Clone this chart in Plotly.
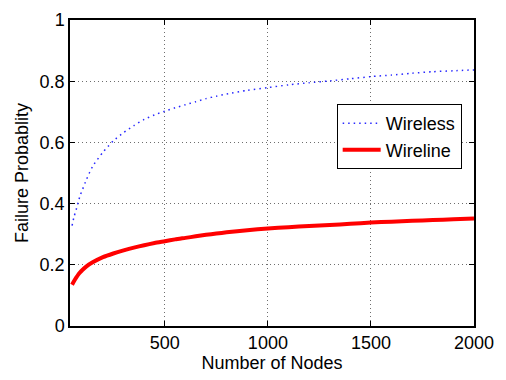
import plotly.graph_objects as go

# Network size (number of nodes)
nodes = [50, 60, 70, 80, 90, 100, 120, 150, 200, 250, 300, 350, 400, 450, 500, 550,
         600, 650, 700, 750, 800, 900, 1000, 1100, 1200, 1300, 1400, 1500, 1600,
         1700, 1800, 1900, 2000]

# Failure probability for each medium
wireless = [0.328, 0.358, 0.380, 0.405, 0.428, 0.445, 0.479, 0.522, 0.568, 0.605,
            0.632, 0.655, 0.675, 0.690, 0.702, 0.713, 0.723, 0.733, 0.743, 0.751,
            0.758, 0.770, 0.779, 0.788, 0.795, 0.801, 0.808, 0.815, 0.820, 0.826,
            0.831, 0.834, 0.837]
wireline = [0.135, 0.147, 0.158, 0.168, 0.176, 0.183, 0.195, 0.208, 0.225, 0.237,
            0.247, 0.256, 0.264, 0.271, 0.277, 0.283, 0.288, 0.293, 0.298, 0.302,
            0.306, 0.313, 0.319, 0.323, 0.327, 0.330, 0.334, 0.338, 0.341, 0.344,
            0.346, 0.349, 0.351]

x_ticks = [500, 1000, 1500, 2000]
y_ticks = [0, 0.2, 0.4, 0.6, 0.8, 1]
y_tick_text = ["0", "0.2", "0.4", "0.6", "0.8", "1"]

FONT = "Liberation Sans, Arial, Helvetica, sans-serif"

fig = go.Figure()
fig.add_trace(go.Scatter(
    x=nodes, y=wireless, mode="lines", name="Wireless",
    line=dict(color="rgb(40,40,255)", width=1.5, dash="1.5px,4px", shape="spline", smoothing=0.6),
))
fig.add_trace(go.Scatter(
    x=nodes, y=wireline, mode="lines", name="Wireline",
    line=dict(color="rgb(255,0,0)", width=4, shape="spline", smoothing=0.6),
))

axis_common = dict(
    showline=True, linecolor="black", linewidth=1.5, mirror="allticks",
    ticks="inside", ticklen=5, tickwidth=1, tickcolor="black",
    showgrid=True, gridcolor="rgb(110,110,110)", gridwidth=1, griddash="1px,3px",
    zeroline=False,
    tickfont=dict(family=FONT, size=18, color="black"),
)

fig.update_xaxes(
    range=[40, 2000], tickvals=x_ticks,
    title=dict(text="Number of Nodes", font=dict(family=FONT, size=18, color="black"), standoff=4),
    **axis_common,
)
fig.update_yaxes(
    range=[0, 1], tickvals=y_ticks, ticktext=y_tick_text,
    title=dict(text="Failure Probablity", font=dict(family=FONT, size=18, color="black"), standoff=6),
    **axis_common,
)

fig.update_layout(
    width=506, height=380,
    margin=dict(l=70, r=32, t=10, b=54),
    paper_bgcolor="white", plot_bgcolor="white",
    font=dict(family=FONT, size=18, color="black"),
    showlegend=True,
    legend=dict(
        x=0.9695, y=0.725, xanchor="right", yanchor="top",
        bgcolor="white", bordercolor="black", borderwidth=1,
        font=dict(family=FONT, size=18, color="black"),
        tracegroupgap=0, itemwidth=38,
    ),
)

fig.write_html("out.html")
